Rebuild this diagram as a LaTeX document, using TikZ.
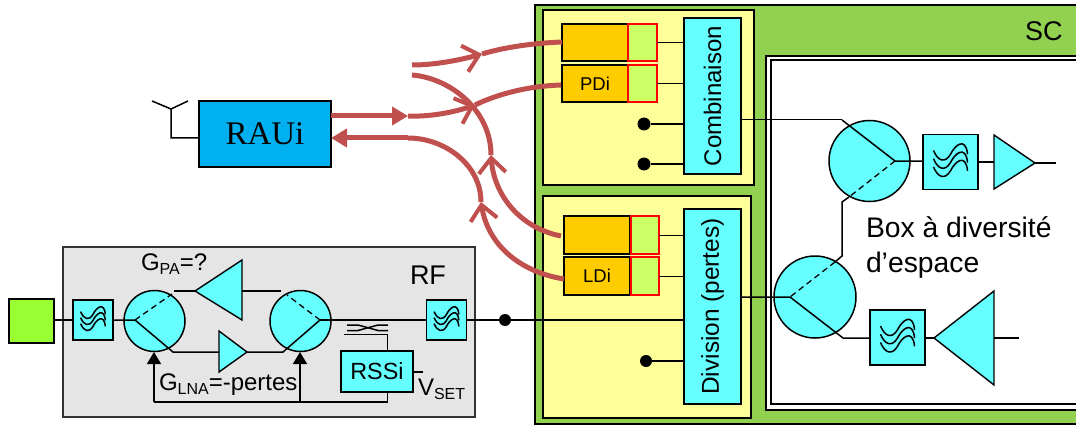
\documentclass[tikz,border=0pt]{standalone}
\usepackage{fontspec}
\setmainfont{Liberation Sans}
\newfontfamily\serifrau{Liberation Serif}
\usetikzlibrary{arrows.meta}
\definecolor{cy}{HTML}{66FFFF}
\definecolor{rd}{HTML}{C0504D}
\definecolor{sc}{HTML}{92D050}
\definecolor{yl}{HTML}{FFFF99}
\definecolor{orng}{HTML}{FFCC00}
\definecolor{lime}{HTML}{CCFF66}
\newcommand{\fsz}[1]{\fontsize{#1}{#1}\selectfont}
\newcommand{\subt}[1]{\raisebox{-4.5pt}{\fsz{16}#1}}
\tikzset{
  base/.style={rectangle,inner sep=0pt,outer sep=0pt,draw=black,line width=1.3pt},
  cybox/.style={base,fill=cy},
  ylbox/.style={base,fill=yl},
  orbox/.style={base,fill=orng},
  limebox/.style={base,fill=lime,draw=red,line width=1.1pt},
  disc/.style={circle,draw=black,fill=cy,line width=1.5pt,inner sep=0pt,outer sep=0pt},
  amp/.style={draw=black,fill=cy,line width=1.4pt,line join=miter},
  wire/.style={draw=black,line width=1.5pt},
  thin wire/.style={draw=black,line width=1pt},
  dash wire/.style={draw=black,line width=1.3pt,dash pattern=on 6pt off 4pt},
  dot/.style={circle,fill=black,inner sep=0pt,minimum size=13pt},
  lab/.style={inner sep=0pt,outer sep=0pt,anchor=base west,text=black},
  red line/.style={draw=rd,line width=5pt},
  red barb/.style={red line,-{Straight Barb[length=15pt,width=27pt,line width=4pt]}},
  red head/.style={draw=rd,line width=5pt,-{Triangle[length=16pt,width=18pt]}},
  sense/.style={wire,-{Triangle[length=12pt,width=14pt]}},
}
% filter: square node with three waves
\newcommand{\filt}[4]{%
  \node[cybox,minimum width=#4,minimum height=#4] (#1) at (#2,#3) {};
  \begin{scope}[shift={(#2,#3)},x=#4pt/2,y=-#4pt/2,line width=1.5pt]
    \foreach \d in {0,.3,.6}{
      \draw (-.62,-.42+\d) .. controls (-.45,-.02+\d) and (-.2,.05+\d) .. (0,-.28+\d)
        .. controls (.15,-.6+\d) and (.55,-.95+\d) .. (.62,-.28+\d);
    }
  \end{scope}
}
\begin{document}
\begin{tikzpicture}[x=1pt,y=-1pt]
\useasboundingbox (0,0) rectangle (1076,425);
\clip (0,0) rectangle (1076,425);
% ---- SC frame
\node[base,fill=sc,minimum width=565,minimum height=419] (sc) at (817.5,214.5) {};
\node[ylbox,minimum width=211,minimum height=175] (top) at (648.5,97.5) {};
\node[ylbox,minimum width=208,minimum height=222] (bot) at (647,307) {};
\node[base,fill=white,minimum width=330,minimum height=354] (outer) at (931,233) {};
\node[base,fill=white,minimum width=320,minimum height=344] (inner) at (931,232) {};
\node[lab] (sclab) at (1025,41) {\fsz{27}SC};
% ---- PD and LD
\node[orbox,minimum width=66,minimum height=37] (o1) at (595,42.5) {};
\node[orbox,minimum width=66,minimum height=37] (o2) at (595,83.5) {\fsz{18.5}PDi};
\node[limebox,minimum width=29,minimum height=37] (g1) at (642.5,42.5) {};
\node[limebox,minimum width=29,minimum height=37] (g2) at (642.5,83.5) {};
\node[orbox,minimum width=66,minimum height=38] (o3) at (597,235) {};
\node[orbox,minimum width=66,minimum height=38] (o4) at (597,276) {\fsz{18.5}LDi};
\node[limebox,minimum width=28,minimum height=38] (g3) at (645,235) {};
\node[limebox,minimum width=28,minimum height=38] (g4) at (645,276) {};
\node[cybox,minimum width=57,minimum height=156] (comb) at (712.5,96) {\rotatebox{90}{\fsz{24}Combinaison}};
\node[cybox,minimum width=57,minimum height=195] (div) at (712.5,306.5) {\rotatebox{90}{\fsz{24.4}Division (pertes)}};
\node[dot] (d1) at (644,124) {};
\node[dot] (d2) at (644,164) {};
\node[dot,minimum size=12pt] (d3) at (646,361) {};
\draw[wire] (g1.east) -- (g1.east -| comb.west);
\draw[wire] (g2.east) -- (g2.east -| comb.west);
\draw[wire] (d1) -- (d1 -| comb.west);
\draw[wire] (d2) -- (d2 -| comb.west);
\draw[thin wire] (g3.east) -- (g3.east -| div.west);
\draw[thin wire] (g4.east) -- (g4.east -| div.west);
\draw[wire] (d3) -- (d3 -| div.west);
% ---- diversity box
\node[disc,minimum size=81] (cA) at (869.5,161) {};
\node[disc,minimum size=82] (cB) at (815,297) {};
\filt{fA}{950.5}{162}{55}
\filt{fB}{897.5}{337.5}{55}
\coordinate (aIn) at (842,120);
\coordinate (aC) at (895,161);
\coordinate (aD) at (849,197);
\coordinate (aE) at (842,202);
\coordinate (bE) at (842,256);
\coordinate (bD) at (835,262);
\coordinate (bC) at (790,297);
\coordinate (bOut) at (843,338);
\coordinate (tAt) at (1035,163);
\coordinate (tAa) at (994,135);
\coordinate (tAb) at (994,189);
\coordinate (endA) at (1056,163);
\coordinate (tBt) at (934,338);
\coordinate (tBa) at (994,291);
\coordinate (tBb) at (994,385);
\coordinate (endB) at (1019,338);
\draw[amp] (tAt) -- (tAa) -- (tAb) -- cycle;
\draw[amp] (tBt) -- (tBa) -- (tBb) -- cycle;
\draw[thin wire] (comb.east |- aIn) -- (aIn);
\draw[wire] (aIn) -- (aC) -- (fA.west |- aC);
\draw[dash wire] (aC) -- (aD);
\draw[wire] (aD) -- (aE) -- (bE) -- (bD);
\draw[dash wire] (bD) -- (bC);
\draw[wire] (div.east |- bC) -- (bC) -- (bOut) -- (fB.west |- bOut);
\draw[wire] (fA.east) -- (fA.east -| tAa);
\draw[wire] (tAt) -- (endA);
\draw[wire] (fB.east |- tBt) -- (tBt);
\draw[wire] (tBa |- endB) -- (endB);
\node[lab] (boxl1) at (866,237) {\fsz{28.3}Box à diversité};
\node[lab] (boxl2) at (866,272) {\fsz{28.3}d’espace};
% ---- RF block
\node[base,fill=black!10,minimum width=412,minimum height=170,draw=black!80] (rf) at (269,332) {};
\node[base,fill={rgb,255:red,153;green,255;blue,51},minimum width=45,minimum height=44,line width=1.5pt] (ant) at (31.5,321) {};
\filt{f1}{93}{320}{40}
\filt{f2}{446.5}{320}{40}
\node[disc,minimum size=61] (c1) at (154.5,321) {};
\node[disc,minimum size=61] (c2) at (300.5,321) {};
\coordinate (p1) at (135,320);
\coordinate (p1a) at (173,352);
\coordinate (p1b) at (172,294);
\coordinate (p1c) at (174,291);
\coordinate (p2) at (320,320);
\coordinate (p2a) at (283,352);
\coordinate (p2b) at (287,295);
\coordinate (p2c) at (281,291);
\coordinate (t1t) at (195,291);
\coordinate (t1a) at (242,260);
\coordinate (t1b) at (242,320);
\coordinate (t2t) at (247,352);
\coordinate (t2a) at (219,331);
\coordinate (t2b) at (219,372);
\draw[amp] (t1t) -- (t1a) -- (t1b) -- cycle;
\draw[amp] (t2t) -- (t2a) -- (t2b) -- cycle;
\draw[wire] (ant.east |- f1.west) -- (f1.west);
\draw[wire] (f1.east) -- (p1) -- (p1a) -- (p1a -| t2a);
\draw[dash wire] (p1) -- (p1b);
\draw[wire] (p1c) -- (t1t);
\draw[wire] (t1a |- t1t) -- (p2c);
\draw[wire] (t2t) -- (p2a -| c2.west) -- (p2a) -- (p2);
\draw[dash wire] (p2) -- (p2b);
\draw[wire] (p2) -- (f2.west);
\node[dot,minimum size=12pt] (jn) at (505,320) {};
\draw[wire] (f2.east) -- (jn) -- (jn -| div.west);
% coupler and RSSi
\node[cybox,minimum width=72,minimum height=41] (rssi) at (377,371.5) {\fsz{23.4}RSSi};
\coordinate (k1) at (347,325);
\coordinate (k2) at (358,325);
\coordinate (k3) at (378,330.5);
\coordinate (k4) at (388,330.5);
\coordinate (k5) at (347,330.5);
\coordinate (k6) at (358,330.5);
\coordinate (k7) at (378,325);
\coordinate (k8) at (388,325);
\coordinate (k9) at (344,334.5);
\coordinate (k10) at (387.5,334.5);
\coordinate (vs) at (423,372);
\coordinate (fb) at (387.5,402);
\coordinate (arA) at (154,352);
\coordinate (arB) at (300,352);
\draw[wire] (k1) -- (k2) -- (k3) -- (k4);
\draw[wire] (k5) -- (k6) -- (k7) -- (k8);
\draw[wire] (k9) -- (k10) -- (k10 |- rssi.north);
\draw[wire] (rssi.east |- vs) -- (vs);
\draw[wire] (fb |- rssi.south) -- (fb) -- (arA |- fb);
\draw[sense] (arA |- fb) -- (arA);
\draw[sense] (arB |- fb) -- (arB);
\node[lab] (gpa) at (141,270) {\fsz{24}G\subt{PA}=?};
\node[lab] (gl) at (159,390) {\fsz{24}G\subt{LNA}=-pertes};
\node[lab] (vset) at (418,395) {\fsz{24}V\subt{SET}};
\node[lab] (rfl) at (410,284) {\fsz{27}RF};
% ---- RAU
\node[base,fill={rgb,255:red,0;green,176;blue,240},minimum width=132,minimum height=66] (rau) at (265,134) {\serifrau\fsz{33}RAUi};
\coordinate (an0) at (171,138);
\coordinate (an1) at (171,109);
\coordinate (an2) at (152,101);
\coordinate (an3) at (188,101);
\draw[wire] (rau.west |- an0) -- (an0) -- (an1) -- (an2);
\draw[wire] (an1) -- (an3);
% ---- red links
\coordinate (s1) at (412,65);
\coordinate (b1) at (482,54);
\coordinate (e1) at (562,42);
\coordinate (s2) at (408,116);
\coordinate (b2) at (475,105);
\coordinate (e2) at (561,85);
\coordinate (s3) at (412,75);
\coordinate (b3) at (491,155);
\coordinate (e3) at (561,236);
\coordinate (s4) at (408,138);
\coordinate (b4) at (481,202);
\coordinate (e4) at (564,279);
\draw[red barb] (s1) .. controls (435,65) and (460,60) .. (b1);
\draw[red line] (b1) .. controls (505,47) and (535,43) .. (e1);
\draw[red barb] (s2) .. controls (430,117) and (455,112) .. (b2);
\draw[red line] (b2) .. controls (500,93) and (530,86) .. (e2);
\draw[red line] (s3) .. controls (450,78) and (491,110) .. (b3);
\draw[red barb] (e3) .. controls (520,228) and (494,195) .. (b3);
\draw[red line] (s4) .. controls (445,138) and (481,165) .. (b4);
\draw[red barb] (e4) .. controls (520,272) and (488,245) .. (b4);
\draw[red head] (rau.east |- s2) -- (s2);
\draw[red head] (s4) -- (rau.east |- s4);
\end{tikzpicture}
\end{document}
